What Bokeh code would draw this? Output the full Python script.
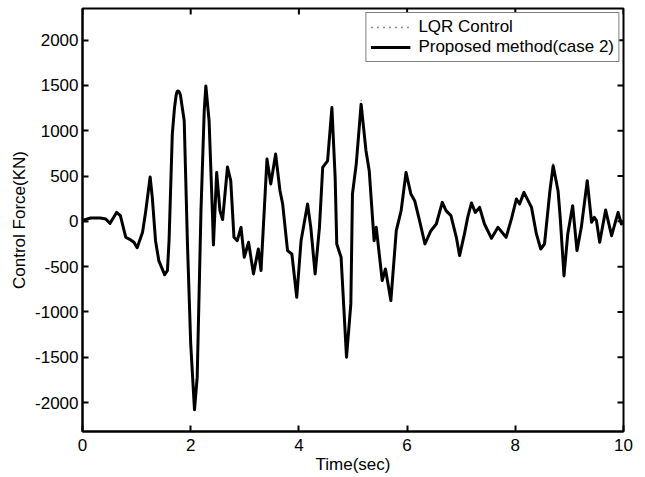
import math
from bokeh.plotting import figure
from bokeh.models import (FixedTicker, Legend, LegendItem, Range1d,
                          PrintfTickFormatter)
from bokeh.embed import file_html
from bokeh.resources import INLINE

# ---------------- data ----------------
time_s = [0.00, 0.15, 0.33, 0.43, 0.51, 0.63, 0.70, 0.80, 0.89, 0.95,
          1.01, 1.11, 1.17, 1.25, 1.29, 1.35, 1.41, 1.52, 1.57, 1.60,
          1.66, 1.70, 1.73, 1.75, 1.77, 1.79, 1.81, 1.88, 1.94, 2.00,
          2.07, 2.12, 2.19,
          2.25, 2.28, 2.34, 2.40, 2.42, 2.48, 2.54, 2.59, 2.68, 2.74,
          2.80, 2.86, 2.93, 2.99, 3.07, 3.16, 3.25, 3.30, 3.41, 3.48,
          3.57, 3.65, 3.70, 3.79, 3.87, 3.96, 4.04, 4.16, 4.22, 4.30,
          4.38, 4.44, 4.53, 4.61, 4.67, 4.70, 4.78, 4.88, 4.96, 4.99,
          5.06, 5.15, 5.24, 5.30, 5.39, 5.43, 5.54, 5.60, 5.70, 5.80,
          5.89, 5.98, 6.07, 6.14, 6.23, 6.33, 6.44, 6.54, 6.65, 6.72,
          6.81, 6.91, 6.97, 7.06, 7.12, 7.19, 7.26, 7.34, 7.43, 7.56,
          7.68, 7.83, 7.93, 8.02, 8.08, 8.16, 8.30, 8.39, 8.47, 8.54,
          8.64, 8.70, 8.79, 8.83, 8.90, 8.97, 9.06, 9.14, 9.22, 9.33,
          9.41, 9.46, 9.50, 9.56, 9.67, 9.78, 9.90, 9.96, 10.00]

proposed_force = [10, 37, 37, 26, -22, 99, 63, -176, -205, -231,
                  -290, -121, 118, 490, 265, -213, -433, -590, -543, -213,
                  964, 1250, 1390, 1435, 1440, 1425, 1395, 1110, -247, -1350,
                  -2080, -1720, 118,
                  1220, 1495, 1110, 118, -260, 540, 118, 20, 600, 450,
                  -176, -213, -66, -397, -231, -580, -305, -543, 688, 412,
                  743, 338, 191, -323, -360, -838, -213, 191, -66, -580,
                  -66, 595, 669, 1257, 485, -250, -397, -1500, -911, 302,
                  633, 1294, 780, 559, -213, -66, -654, -525, -874, -103,
                  118, 540, 302, 228, 8, -250, -103, -29, 210, 118,
                  63, -176, -378, -139, 44, 203, 99, 154, -29, -187,
                  -66, -176, 30, 247, 191, 320, 154, -139, -305, -250,
                  338, 614, 338, 44, -599, -139, 173, -323, -66, 449,
                  -11, 44, 8, -231, 125, -158, 99, -29, 0]

lqr_force = [10, 37, 37, 26, -22, 99, 63, -176, -205, -231,
             -295, -121, 118, 495, 265, -213, -433, -610, -543, -213,
             964, 1250, 1395, 1440, 1445, 1430, 1395, 1110, -247, -1350,
             -2090, -1720, 118,
             1220, 1510, 1110, 118, -280, 545, 118, 10, 605, 450,
             -176, -220, -66, -405, -231, -590, -305, -550, 695, 412,
             750, 338, 191, -323, -360, -845, -213, 195, -66, -590,
             -66, 595, 669, 1265, 485, -250, -397, -1510, -911, 302,
             633, 1340, 780, 559, -230, -66, -660, -525, -880, -103,
             118, 545, 302, 228, 8, -255, -103, -29, 215, 118,
             63, -176, -385, -139, 44, 210, 99, 154, -29, -190,
             -66, -176, 30, 250, 191, 325, 154, -139, -310, -250,
             338, 640, 338, 44, -640, -139, 180, -330, -66, 460,
             -11, 44, 8, -240, 130, -165, 105, -29, 0]

x_ticks = [0, 2, 4, 6, 8, 10]
y_ticks = [-2000, -1500, -1000, -500, 0, 500, 1000, 1500, 2000]
legend_labels = ["LQR Control", "Proposed method(case 2)"]
x_label = "Time(sec)"
y_label = "Control Force(KN)"

x_start, x_end = 0, 10
y_start, y_end = -2320, 2350

FONT = "Liberation Sans"
FS = "17px"

p = figure(width=645, height=477, output_backend="svg", toolbar_location=None,
           x_range=Range1d(x_start, x_end), y_range=Range1d(y_start, y_end),
           min_border_left=82, min_border_right=22, min_border_top=8,
           min_border_bottom=46, x_axis_label=x_label, y_axis_label=y_label)
p.xgrid.visible = False
p.ygrid.visible = False
p.outline_line_color = "black"
p.outline_line_width = 2
p.background_fill_color = "white"
p.border_fill_color = "white"

r_lqr = p.line(time_s, lqr_force, line_color="#8a8a8a", line_width=1.5,
               line_dash="dotted")
r_prop = p.line(time_s, proposed_force, line_color="black", line_width=3,
                line_join="round")

# inward tick marks on the top and right edges (box-style axes)
p.scatter(x_ticks, [y_end] * len(x_ticks), marker="dash", size=12,
          angle=math.pi / 2, line_color="black", line_width=2)
p.scatter([x_end] * len(y_ticks), y_ticks, marker="dash", size=12,
          line_color="black", line_width=2)

for ax in (p.xaxis[0], p.yaxis[0]):
    ax.axis_line_color = "black"
    ax.axis_line_width = 2
    ax.major_tick_in = 6
    ax.major_tick_out = 0
    ax.major_tick_line_width = 2
    ax.major_tick_line_color = "black"
    ax.minor_tick_line_color = None
    ax.major_label_text_font = FONT
    ax.major_label_text_font_size = FS
    ax.major_label_text_color = "black"
    ax.axis_label_text_font = FONT
    ax.axis_label_text_font_size = FS
    ax.axis_label_text_font_style = "normal"
    ax.axis_label_text_color = "black"

p.xaxis.ticker = FixedTicker(ticks=x_ticks)
p.yaxis.ticker = FixedTicker(ticks=y_ticks)
p.yaxis.formatter = PrintfTickFormatter(format="%d")
p.xaxis.formatter = PrintfTickFormatter(format="%d")
p.xaxis.major_label_standoff = 7
p.xaxis.axis_label_standoff = 1
p.yaxis.major_label_standoff = 4
p.yaxis.axis_label_standoff = 3

legend = Legend(items=[LegendItem(label=legend_labels[0], renderers=[r_lqr]),
                       LegendItem(label=legend_labels[1], renderers=[r_prop])],
                location="top_right", margin=4, padding=4, spacing=0,
                glyph_width=40, glyph_height=20, label_height=20,
                label_standoff=8, border_line_color="black",
                border_line_width=1, background_fill_color="white",
                background_fill_alpha=1.0,
                label_text_font=FONT, label_text_font_size=FS,
                label_text_color="black")
p.add_layout(legend)

open("out.html", "w").write(file_html(p, INLINE))
